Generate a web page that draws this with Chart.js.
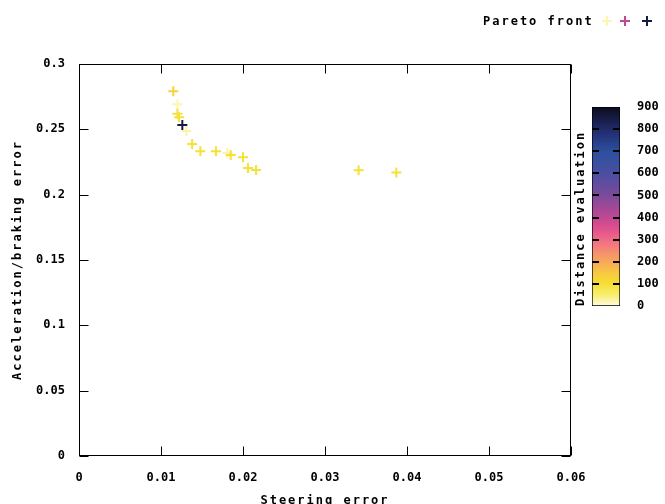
<!DOCTYPE html>
<html>
<head>
<meta charset="utf-8">
<script src="https://cdn.jsdelivr.net/npm/chart.js@4/dist/chart.umd.min.js"></script>
<style>
  body { margin: 0; background: #fff; }
  #wrap { position: relative; width: 665px; height: 504px; overflow: hidden; }
  #mainChart { position: absolute; left: 0; top: 0; }
  #barChart { position: absolute; left: 540px; top: 90px; }
</style>
</head>
<body>
<div id="wrap">
  <canvas id="mainChart" width="665" height="504"></canvas>
  <canvas id="barChart" width="125" height="240"></canvas>
</div>
<script>
const steerErr = [0.0115, 0.0120, 0.0120, 0.0122, 0.0126, 0.0131, 0.0138, 0.0148,
                  0.0167, 0.0181, 0.0185, 0.0200, 0.0206, 0.0216, 0.0341, 0.0387];
const accelErr = [0.2791, 0.2692, 0.2620, 0.2592, 0.2533, 0.2487, 0.2388, 0.2332,
                  0.2332, 0.2319, 0.2304, 0.2286, 0.2204, 0.2189, 0.2186, 0.2169];
const distEval = [125, 20, 95, 95, 850, 25, 95, 95, 95, 25, 95, 95, 95, 95, 95, 95];

const xTickVals = [0, 0.01, 0.02, 0.03, 0.04, 0.05, 0.06];
const xTickLabels = ["0", "0.01", "0.02", "0.03", "0.04", "0.05", "0.06"];
const yTickVals = [0, 0.05, 0.1, 0.15, 0.2, 0.25, 0.3];
const yTickLabels = ["0", "0.05", "0.1", "0.15", "0.2", "0.25", "0.3"];
const cbTickVals = [0, 100, 200, 300, 400, 500, 600, 700, 800, 900];
const cbTickLabels = ["0", "100", "200", "300", "400", "500", "600", "700", "800", "900"];

const legendText = "Pareto front";
const legendValues = [20, 400, 850];

// colour map for the distance evaluation
const palette = [
  [0, "#fffbe0"], [50, "#f8ee70"], [100, "#f5e032"], [150, "#f8c842"],
  [200, "#f7a85a"], [250, "#f58a72"], [300, "#f06a88"], [350, "#e0508c"],
  [400, "#c04892"], [500, "#7c4a9c"], [600, "#4a4fa2"], [700, "#2c4f9e"],
  [800, "#202a6a"], [900, "#0c0c1c"]
];

function hexRgb(h) {
  return [parseInt(h.slice(1, 3), 16), parseInt(h.slice(3, 5), 16), parseInt(h.slice(5, 7), 16)];
}

function colorFor(v) {
  for (let i = 1; i < palette.length; i++) {
    if (v <= palette[i][0]) {
      const [v0, c0] = palette[i - 1];
      const [v1, c1] = palette[i];
      const t = (v - v0) / (v1 - v0);
      const a = hexRgb(c0), b = hexRgb(c1);
      const m = a.map((x, k) => Math.round(x + (b[k] - x) * t));
      return "rgb(" + m.join(",") + ")";
    }
  }
  return palette[palette.length - 1][1];
}

Chart.defaults.font.family = "'DejaVu Sans Mono', monospace";
Chart.defaults.font.size = 12;
Chart.defaults.font.weight = "bold";
Chart.defaults.color = "#000";

// titles are drawn wide (before datasets), tick labels tight (after, ticks.z = 1)
const spacing = {
  id: "spacing",
  beforeUpdate(c) { c.ctx.letterSpacing = "0px"; },
  beforeDraw(c) { c.ctx.letterSpacing = "2px"; },
  afterDatasetsDraw(c) { c.ctx.letterSpacing = "0px"; }
};

function drawCross(ctx, x, y, r, color) {
  ctx.strokeStyle = color;
  ctx.lineWidth = 2;
  ctx.beginPath();
  ctx.moveTo(x - r, y); ctx.lineTo(x + r, y);
  ctx.moveTo(x, y - r); ctx.lineTo(x, y + r);
  ctx.stroke();
}

// box with inward, mirrored tick marks like gnuplot
const frame = {
  id: "frame",
  beforeDatasetsDraw(chart) {
    const { ctx, chartArea: a, scales: { x, y } } = chart;
    const L = Math.round(a.left) + 0.5, R = Math.round(a.right) - 0.5;
    const T = Math.round(a.top) + 0.5, B = Math.round(a.bottom) - 0.5;
    const len = 9;
    ctx.save();
    ctx.strokeStyle = "#000";
    ctx.lineWidth = 1;
    ctx.strokeRect(L, T, R - L, B - T);
    ctx.beginPath();
    xTickVals.forEach(v => {
      const px = Math.round(x.getPixelForValue(v)) + 0.5;
      ctx.moveTo(px, B); ctx.lineTo(px, B - len);
      ctx.moveTo(px, T); ctx.lineTo(px, T + len);
    });
    yTickVals.forEach(v => {
      const py = Math.round(y.getPixelForValue(v)) + 0.5;
      ctx.moveTo(L, py); ctx.lineTo(L + len, py);
      ctx.moveTo(R, py); ctx.lineTo(R - len, py);
    });
    ctx.stroke();
    ctx.restore();
  },
  afterDraw(chart) {
    const ctx = chart.ctx;
    ctx.save();
    ctx.letterSpacing = "2px";
    ctx.font = "bold 12px 'DejaVu Sans Mono', monospace";
    ctx.fillStyle = "#000";
    ctx.textAlign = "left";
    ctx.textBaseline = "middle";
    ctx.fillText(legendText, 483, 22);
    const xs = [607, 625, 647];
    legendValues.forEach((v, i) => drawCross(ctx, xs[i], 21, 5, colorFor(v)));
    ctx.restore();
  }
};

const points = steerErr.map((s, i) => ({ x: s, y: accelErr[i] }));

new Chart(document.getElementById("mainChart"), {
  type: "scatter",
  data: {
    datasets: [{
      label: legendText,
      data: points,
      pointStyle: "cross",
      pointRadius: 5,
      pointBorderWidth: 2,
      pointBorderColor: distEval.map(colorFor),
      pointBackgroundColor: distEval.map(colorFor)
    }]
  },
  options: {
    responsive: false,
    animation: false,
    layout: { padding: { top: 64, right: 94, left: 0, bottom: 0 } },
    plugins: { legend: { display: false }, tooltip: { enabled: false } },
    scales: {
      x: {
        type: "linear",
        min: 0,
        max: 0.06,
        afterBuildTicks: s => { s.ticks = xTickVals.map(v => ({ value: v })); },
        afterFit: s => { s.height = 48; },
        ticks: {
          z: 1,
          autoSkip: false,
          maxRotation: 0,
          padding: 15,
          callback: (v, i) => xTickLabels[i]
        },
        grid: { display: false, drawTicks: false },
        border: { display: false },
        title: { display: true, text: "Steering error", padding: { top: 0, bottom: -4 } }
      },
      y: {
        type: "linear",
        min: 0,
        max: 0.3,
        afterBuildTicks: s => { s.ticks = yTickVals.map(v => ({ value: v })); },
        afterFit: s => { s.width = 79; },
        ticks: {
          z: 1,
          autoSkip: false,
          padding: 14,
          callback: (v, i) => yTickLabels[i]
        },
        grid: { display: false, drawTicks: false },
        border: { display: false },
        title: { display: true, text: "Acceleration/braking error", padding: { top: 11, bottom: 0 } }
      }
    }
  },
  plugins: [spacing, frame]
});

// colour bar
const barTicks = {
  id: "barTicks",
  afterDatasetsDraw(chart) {
    const { ctx, chartArea: a, scales: { y } } = chart;
    ctx.save();
    ctx.strokeStyle = "#000";
    ctx.lineWidth = 2;
    ctx.beginPath();
    cbTickVals.slice(1, -1).forEach(v => {
      const py = Math.round(y.getPixelForValue(v));
      ctx.moveTo(a.left, py); ctx.lineTo(a.left + 7, py);
      ctx.moveTo(a.right, py); ctx.lineTo(a.right - 7, py);
    });
    ctx.stroke();
    ctx.restore();
  }
};

const cbMin = cbTickVals[0];
const cbMax = cbTickVals[cbTickVals.length - 1];

new Chart(document.getElementById("barChart"), {
  type: "bar",
  data: {
    labels: ["dist"],
    datasets: [{
      data: [[cbMin, cbMax]],
      backgroundColor: c => {
        const ch = c.chart;
        if (!ch.chartArea) return "#fff";
        const ys = ch.scales.y;
        const g = ch.ctx.createLinearGradient(0, ys.getPixelForValue(cbMin), 0, ys.getPixelForValue(cbMax));
        palette.forEach(([v, col]) => g.addColorStop((v - cbMin) / (cbMax - cbMin), col));
        return g;
      },
      borderColor: "#000",
      borderWidth: 1,
      borderSkipped: false,
      barPercentage: 1,
      categoryPercentage: 1
    }]
  },
  options: {
    responsive: false,
    animation: false,
    layout: { padding: { top: 17, bottom: 24, left: 0, right: 0 } },
    plugins: { legend: { display: false }, tooltip: { enabled: false } },
    scales: {
      x: { display: false },
      yl: {
        type: "linear",
        position: "left",
        min: cbMin,
        max: cbMax,
        afterFit: s => { s.width = 52; },
        ticks: { display: false },
        grid: { display: false, drawTicks: false },
        border: { display: false },
        title: { display: true, text: "Distance evaluation", align: "start", padding: { top: 34, bottom: 0 } }
      },
      y: {
        type: "linear",
        position: "right",
        min: cbMin,
        max: cbMax,
        afterBuildTicks: s => { s.ticks = cbTickVals.map(v => ({ value: v })); },
        afterFit: s => { s.width = 45; },
        ticks: { z: 1, autoSkip: false, padding: 0, callback: (v, i) => cbTickLabels[i] },
        grid: { display: false, drawTicks: true, tickLength: 17 },
        border: { display: false }
      }
    }
  },
  plugins: [spacing, barTicks]
});
</script>
</body>
</html>
